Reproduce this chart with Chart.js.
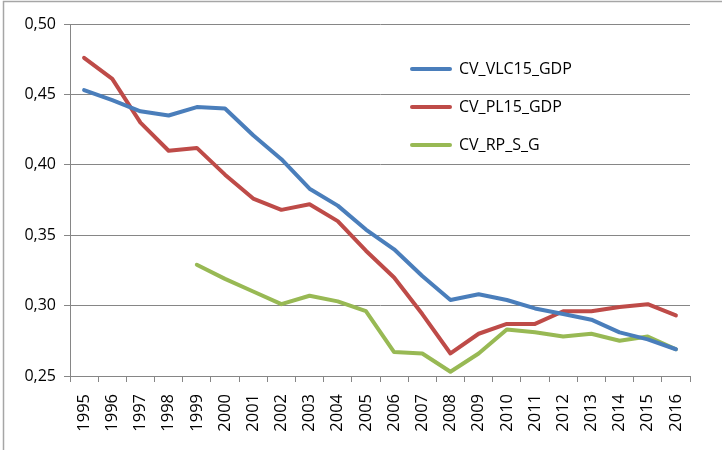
<!DOCTYPE html>
<html>
<head>
<meta charset="utf-8">
<script src="https://cdn.jsdelivr.net/npm/chart.js@4.4.1/dist/chart.umd.min.js"></script>
<style>
html,body{margin:0;padding:0;background:#fff;}
#wrap{width:722px;height:450px;position:relative;}
canvas{display:block;}
</style>
</head>
<body>
<div id="wrap"><canvas id="c" width="722" height="450"></canvas></div>
<script>
const categories = ['1995','1996','1997','1998','1999','2000','2001','2002','2003','2004','2005','2006','2007','2008','2009','2010','2011','2012','2013','2014','2015','2016'];
const seriesNames = ['CV_VLC15_GDP','CV_PL15_GDP','CV_RP_S_G'];
const vlc15 = [0.453,0.446,0.438,0.435,0.441,0.440,0.421,0.404,0.383,0.371,0.354,0.340,0.321,0.304,0.308,0.304,0.298,0.294,0.290,0.281,0.276,0.269];
const pl15  = [0.476,0.461,0.430,0.410,0.412,0.393,0.376,0.368,0.372,0.360,0.339,0.320,0.294,0.266,0.280,0.287,0.287,0.296,0.296,0.299,0.301,0.293];
const rpsg  = [null,null,null,null,0.329,0.319,0.310,0.301,0.307,0.303,0.296,0.267,0.266,0.253,0.266,0.283,0.281,0.278,0.280,0.275,0.278,0.269];
const yTicks = [0.25,0.30,0.35,0.40,0.45,0.50];
const colors = ['#4A7EBB','#BE4B48','#98B954'];

const FONT = '"Open Sans", "Liberation Sans", sans-serif';

const framePlugin = {
  id:'frame',
  beforeDraw(chart){
    const ctx = chart.ctx;
    ctx.save();
    ctx.strokeStyle = '#A6A6A6';
    ctx.lineWidth = 1.5;
    ctx.beginPath();
    ctx.moveTo(3.5, 450);
    ctx.lineTo(3.5, 1.5);
    ctx.lineTo(722, 1.5);
    ctx.stroke();
    ctx.restore();
  }
};

const legendPlugin = {
  id:'customLegend',
  afterDraw(chart){
    const ctx = chart.ctx;
    ctx.save();
    const rows = [69,107,145];
    chart.data.datasets.forEach((ds,i)=>{
      const y = rows[i];
      ctx.strokeStyle = ds.borderColor;
      ctx.lineWidth = 4;
      ctx.lineCap = 'round';
      ctx.beginPath();
      ctx.moveTo(412, y);
      ctx.lineTo(450, y);
      ctx.stroke();
      ctx.fillStyle = '#000';
      ctx.font = '16px ' + FONT;
      ctx.textBaseline = 'middle';
      ctx.textAlign = 'left';
      ctx.fillText(ds.label, 459, y);
    });
    ctx.restore();
  }
};

new Chart(document.getElementById('c'), {
  type:'line',
  data:{
    labels: categories,
    datasets:[vlc15,pl15,rpsg].map((d,i)=>({
      label: seriesNames[i],
      data: d,
      borderColor: colors[i],
      backgroundColor: colors[i],
      borderWidth: 4,
      pointRadius: 0,
      tension: 0,
      borderCapStyle:'round',
      borderJoinStyle:'round',
      spanGaps:false
    }))
  },
  options:{
    responsive:false,
    animation:false,
    devicePixelRatio:1,
    layout:{padding:{left:0,right:32,top:24,bottom:0}},
    plugins:{legend:{display:false},tooltip:{enabled:false}},
    scales:{
      x:{
        type:'category',
        offset:true,
        grid:{offset:true,drawOnChartArea:false,drawTicks:true,tickLength:6,color:'#868686',lineWidth:1},
        border:{display:true,color:'#868686',width:1},
        ticks:{autoSkip:false,maxRotation:90,minRotation:90,padding:12,color:'#000',font:{family:FONT,size:16.5}},
        afterFit(scale){scale.height = 74;}
      },
      y:{
        min:0.25,max:0.50,
        afterBuildTicks(scale){scale.ticks = yTicks.map(v=>({value:v}));},
        grid:{color:'#868686',lineWidth:1,drawTicks:true,tickLength:6},
        border:{display:true,color:'#868686',width:1},
        ticks:{padding:8,color:'#000',font:{family:FONT,size:16},
          callback:(v)=>Number(v).toFixed(2).replace('.',',')},
        afterFit(scale){scale.width = 70;}
      }
    }
  },
  plugins:[framePlugin,legendPlugin]
});
</script>
</body>
</html>
